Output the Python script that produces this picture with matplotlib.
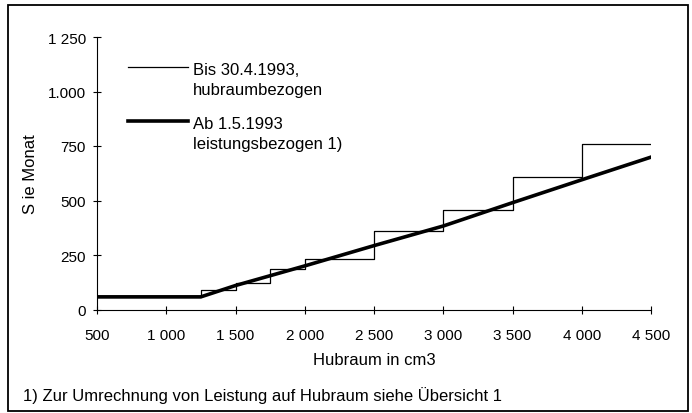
#!/usr/bin/env python3
# -*- coding: utf-8 -*

import matplotlib.pyplot as plt
from matplotlib.patches import Rectangle

plt.rcParams['font.family'] = ['Liberation Sans', 'DejaVu Sans']

# Hubraum (cm3) edges of the old per-displacement steps
STEP_EDGES = [500, 1250, 1500, 1750, 2000, 2500, 3000, 3500, 4000, 4500]
# S je Monat for each step (old: bis 30.4.1993)
STEP_VALUES = [58, 90, 120, 185, 230, 362, 455, 610, 760]

# new power-based tariff (ab 1.5.1993), read at these Hubraum points
NEW_X = [500, 1250, 1500, 1750, 2000, 2500, 3000, 3500, 4000, 4500]
NEW_Y = [58, 58, 110, 155, 200, 293, 383, 490, 595, 699]

X_TICKS = [500, 1000, 1500, 2000, 2500, 3000, 3500, 4000, 4500]
X_TICK_LABELS = ["500", "1 000", "1 500", "2 000", "2 500", "3 000",
                 "3 500", "4 000", "4 500"]
Y_TICKS = [0, 250, 500, 750, 1000, 1250]
Y_TICK_LABELS = ["0", "250", "500", "750", "1.000", "1 250"]

LEGENDS = ["Bis 30.4.1993,\nhubraumbezogen", "Ab 1.5.1993\nleistungsbezogen 1)"]
LEGEND_WIDTHS = [0.9, 2.6]

fig = plt.figure(figsize=(6.92, 4.14), dpi=100)
ax = fig.add_axes([97 / 692, 1 - 310.5 / 414, 554 / 692, 272.5 / 414])

ax.step(STEP_EDGES, STEP_VALUES + STEP_VALUES[-1:], where="post",
        color="black", linewidth=LEGEND_WIDTHS[0])
ax.plot(NEW_X, NEW_Y, color="black", linewidth=LEGEND_WIDTHS[1])

ax.set_xlim(500, 4500)
ax.set_ylim(0, 1250)
ax.set_xticks(X_TICKS, X_TICK_LABELS)
ax.set_yticks(Y_TICKS, Y_TICK_LABELS)
ax.tick_params(axis="both", direction="inout", length=6, width=0.8,
               labelsize=11, pad=5)
ax.tick_params(axis="x", pad=10)
for side in ("top", "right"):
    ax.spines[side].set_visible(False)
for side in ("left", "bottom"):
    ax.spines[side].set_linewidth(0.8)

ax.set_xlabel("Hubraum in cm3", fontsize=12, labelpad=7.5)
ax.set_ylabel("S ie Monat", fontsize=12, labelpad=7)

# hand-made legend: the line sits on the first line of its label
for i, (label, lw) in enumerate(zip(LEGENDS, LEGEND_WIDTHS)):
    y = 0.890 - i * 0.198
    ax.plot([0.056, 0.164], [y, y], transform=ax.transAxes,
            color="black", linewidth=lw, clip_on=False)
    ax.text(0.173, y - 0.099, label, transform=ax.transAxes,
            fontsize=12, va="baseline", ha="left", linespacing=1.4)

fig.text(23 / 692, 1 - 396 / 414,
         "1) Zur Umrechnung von Leistung auf Hubraum siehe Übersicht 1",
         fontsize=12, va="center", ha="left")

fig.patches.append(Rectangle((8 / 692, 1 - 412 / 414), 680 / 692, 406 / 414,
                             transform=fig.transFigure, fill=False,
                             edgecolor="black", linewidth=1.3))

fig.savefig("out.png", dpi=100)
